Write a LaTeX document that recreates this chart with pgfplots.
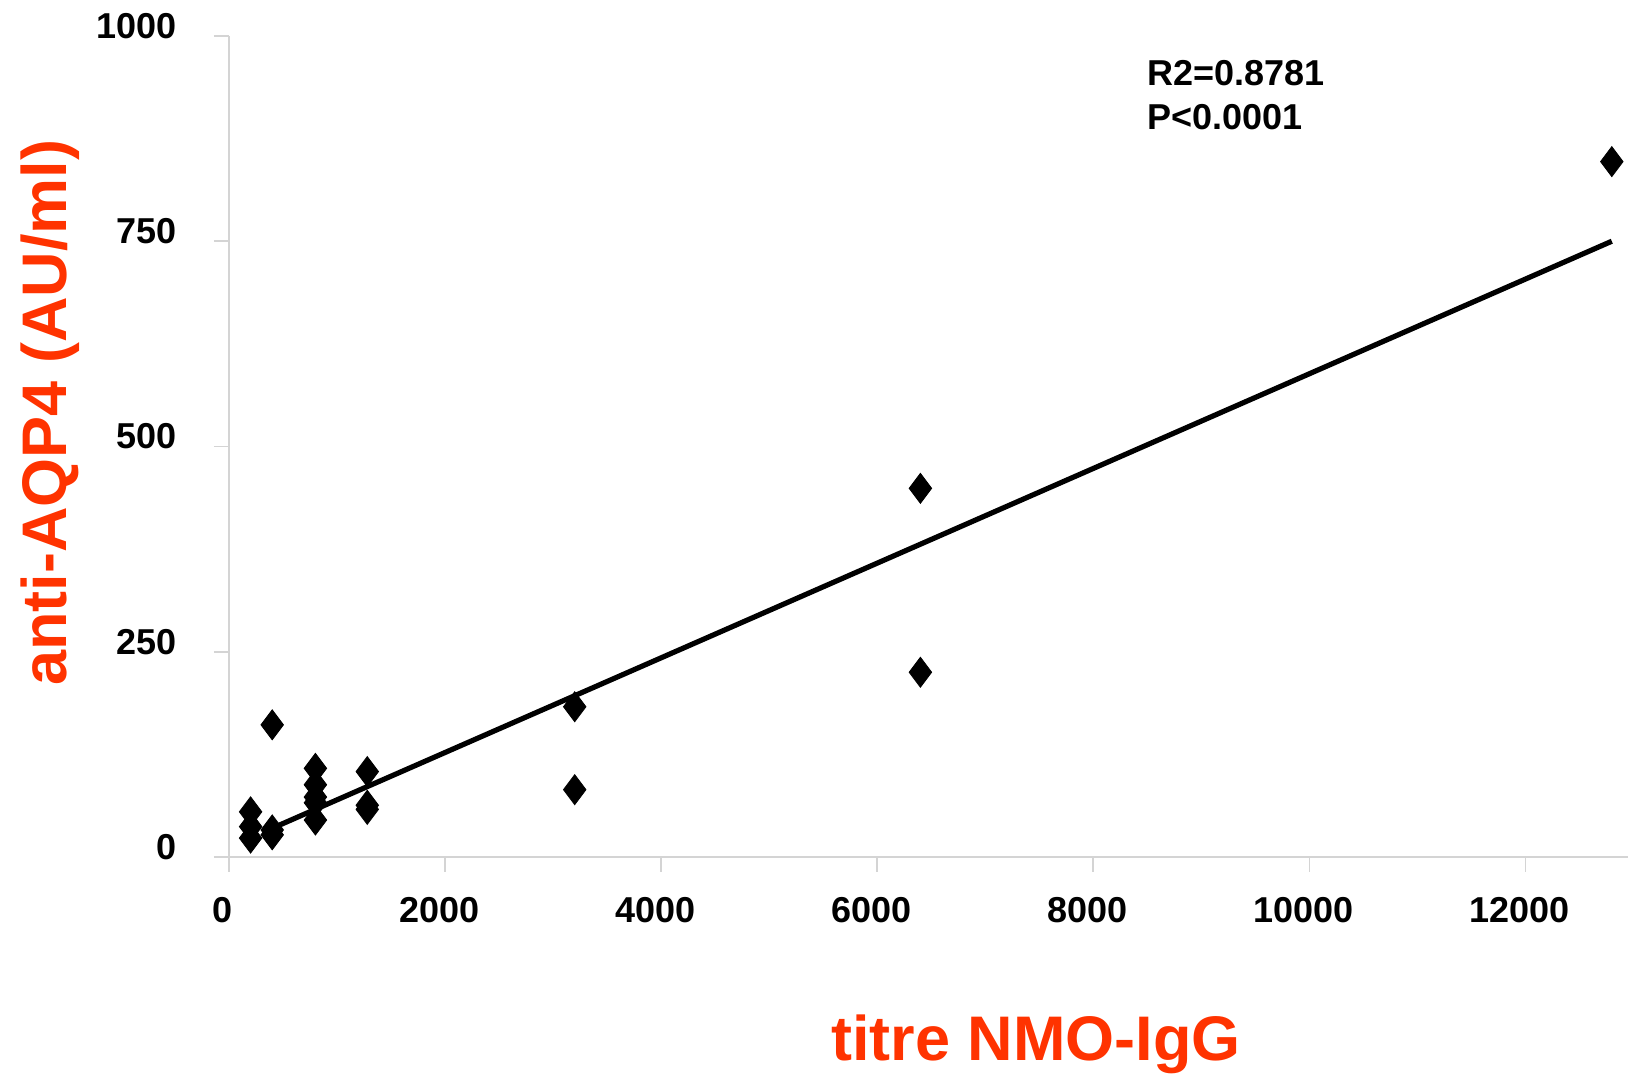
\documentclass[border=0pt]{standalone}
\usepackage{fontspec}
\setmainfont{Liberation Sans}
\usepackage{pgfplots}
\pgfplotsset{compat=1.18}
\definecolor{lab}{HTML}{FF3300}
\definecolor{axgray}{HTML}{D4D4D4}
\begin{document}
\begin{tikzpicture}
\useasboundingbox (-114.5pt,-111pt) rectangle (699.5pt,428.5pt);
\begin{axis}[
  at={(0,0)}, anchor=south west,
  scale only axis, width=699.5pt, height=410.5pt,
  xmin=0, xmax=12950, ymin=0, ymax=1000,
  xtick={0,2000,4000,6000,8000,10000,12000},
  ytick={0,250,500,750,1000},
  axis x line*=bottom, axis y line*=left,
  axis line style={axgray, line width=0.8pt, -},
  tick style={axgray, line width=0.8pt},
  tick align=outside, major tick length=7.5pt,
  /pgf/number format/assume math mode=true,
  /pgf/number format/set thousands separator={},
  scaled x ticks=false, scaled y ticks=false,
  ticklabel style={font=\fontsize{18}{20}\selectfont\bfseries, text=black},
  yticklabel style={xshift=-15pt, yshift=5pt},
  xticklabel style={yshift=-9pt, xshift=-3pt},
  xlabel={titre NMO-IgG},
  ylabel={anti-AQP4 (AU/ml)},
  xlabel style={at={(axis description cs:0.577,-0.228)}, anchor=center, font=\fontsize{31.5}{34}\selectfont\bfseries, text=lab},
  ylabel style={at={(axis description cs:-0.128,0.541)}, anchor=center, font=\fontsize{31.5}{34}\selectfont\bfseries, text=lab},
  clip=false,
]
\addplot[only marks, mark=diamond*, mark size=7.5pt, mark options={fill=black, draw=black}] coordinates {
  (200,55) (200,37) (200,23)
  (400,161) (400,33) (400,27)
  (800,108) (800,88) (800,73) (800,66) (800,45)
  (1280,104) (1280,63) (1280,58)
  (3200,183) (3200,82)
  (6400,449) (6400,225)
  (12800,847)
};
\addplot[black, line width=2.6pt] coordinates {(400,35) (12800,750)};
\node[anchor=west, font=\fontsize{18}{20}\selectfont\bfseries] at (axis cs:8435,955) {R2=0.8781};
\node[anchor=west, font=\fontsize{18}{20}\selectfont\bfseries] at (axis cs:8435,901) {P<0.0001};
\end{axis}
\end{tikzpicture}
\end{document}
